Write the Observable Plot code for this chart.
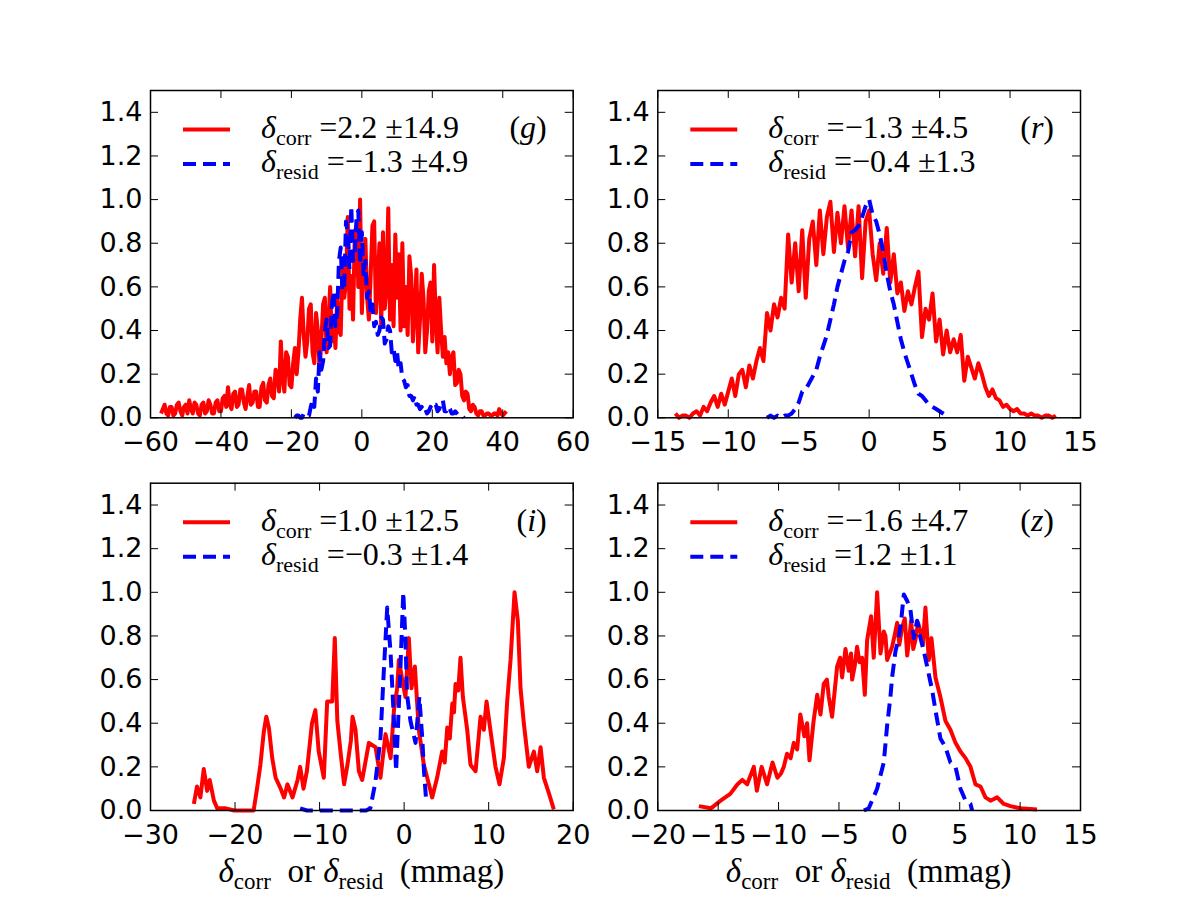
<!DOCTYPE html>
<html><head><meta charset="utf-8">
<script src="https://cdn.jsdelivr.net/npm/d3@7"></script>
<script src="https://cdn.jsdelivr.net/npm/@observablehq/plot@0.6"></script>
<style>
body{margin:0;background:#fff;}
#fig{position:relative;width:1200px;height:900px;background:#fff;overflow:hidden;}
#fig svg{position:absolute;overflow:visible;}
</style></head><body><div id="fig"></div>
<script>
// ---------------- DATA ----------------
const bands = ["g", "r", "i", "z"];
const corrMean = [2.2, -1.3, 1.0, -1.6];
const corrStd = [14.9, 4.5, 12.5, 4.7];
const residMean = [-1.3, -0.4, -0.3, 1.2];
const residStd = [4.9, 1.3, 1.4, 1.1];

const yTicks = [0, 0.2, 0.4, 0.6, 0.8, 1.0, 1.2, 1.4];
const gTicks = [-60, -40, -20, 0, 20, 40, 60];
const rTicks = [-15, -10, -5, 0, 5, 10, 15];
const iTicks = [-30, -20, -10, 0, 10, 20];
const zTicks = [-20, -15, -10, -5, 0, 5, 10, 15];

// g band: histogram bins (start, width) and normalised counts
const gCorrStart = -57, gCorrStep = 0.5;
const gCorr = [
 0.02,0.04, 0.06,0.02, 0.01,0.05, 0.05,0.01, 0.02,0.06, 0.07,0.03, 0.01,0.05, 0.06,0.02, 0.08,0.04, 0.02,0.07,
 0.06,0.02, 0.01,0.06, 0.07,0.02, 0.03,0.08, 0.06,0.02, 0.02,0.07, 0.08,0.03, 0.03,0.09, 0.10,0.05, 0.14,0.06,
 0.04,0.11, 0.12,0.05, 0.06,0.13, 0.13,0.07, 0.04,0.10, 0.15,0.06, 0.07,0.12, 0.12,0.05, 0.05,0.14, 0.16,0.08,
 0.07,0.15, 0.18,0.10, 0.09,0.22, 0.20,0.12, 0.35,0.18, 0.12,0.30, 0.28,0.15, 0.14,0.25, 0.32,0.20, 0.30,0.45,
 0.55,0.38, 0.28,0.35, 0.50,0.52, 0.30,0.25, 0.48,0.40, 0.22,0.35, 0.52,0.55, 0.30,0.42, 0.60,0.35, 0.45,0.32,
 0.55,0.40, 0.38,0.70, 0.55,0.62, 0.92,0.50, 0.65,0.45, 0.85,0.88, 0.60,1.00, 0.48,0.70, 0.82,0.55, 0.45,0.65,
 0.88,0.90, 0.48,0.62, 0.80,0.42, 0.85,0.50, 0.60,0.96, 0.45,0.70, 0.42,0.84, 0.55,0.75, 0.40,0.80, 0.42,0.60,
 0.38,0.74, 0.65,0.35, 0.50,0.68, 0.30,0.45, 0.66,0.55, 0.30,0.40, 0.58,0.62, 0.35,0.70, 0.45,0.30, 0.55,0.40,
 0.28,0.37, 0.25,0.30, 0.20,0.28, 0.30,0.15, 0.16,0.22, 0.20,0.10, 0.08,0.12, 0.11,0.04, 0.03,0.06, 0.05,0.02,
 0.01,0.03, 0.03,0.01, 0.01,0.02, 0.02,0.01, 0.01,0.02, 0.02,0.01, 0.04,0.02, 0.01,0.02, 0.03];
const gResidStart = -19, gResidStep = 0.5;
const gResid = [
 0.00,0.01, 0.01,0.00, 0.00,0.02, 0.02,0.01, 0.01,0.05, 0.08,0.05, 0.18,0.12, 0.30,0.22, 0.26,0.40, 0.45,0.32,
 0.33,0.52, 0.58,0.42, 0.48,0.72, 0.78,0.58, 0.60,0.90, 0.85,0.68, 0.97,0.72, 0.75,0.92, 0.95,0.70, 0.85,0.65,
 0.72,0.55, 0.58,0.48, 0.52,0.42, 0.44,0.38, 0.40,0.46, 0.45,0.34, 0.36,0.42, 0.40,0.30, 0.32,0.26, 0.30,0.22,
 0.25,0.18, 0.17,0.14, 0.15,0.10, 0.10,0.08, 0.10,0.06, 0.06,0.04, 0.05,0.03, 0.04,0.02, 0.03,0.05, 0.04,0.06,
 0.06,0.03, 0.04,0.07, 0.08,0.03, 0.03,0.05, 0.04,0.02, 0.02,0.03, 0.02,0.01, 0.01,0.01, 0.00];

// r band
const rCorrStart = -13.75, rCorrStep = 0.25;
const rCorr = [0.02,0.00,0.01,0.01, 0.00,0.02,0.03,0.01, 0.05,0.03,0.07,0.10,
 0.05,0.11,0.06,0.12, 0.18,0.10,0.20,0.22, 0.14,0.24,0.18,0.26,
 0.32,0.26,0.48,0.40, 0.52,0.46,0.55,0.50, 0.84,0.62,0.80,0.58,
 0.86,0.55,0.82,0.90, 0.70,0.95,0.75,0.92, 0.99,0.76,0.94,0.80,
 0.97,0.78,0.95,0.74, 0.97,0.64,0.90,0.95, 0.75,0.63,0.80,0.66,
 0.87,0.62,0.75,0.57, 0.62,0.49,0.58,0.52, 0.60,0.67,0.37,0.50,
 0.45,0.57,0.35,0.45, 0.29,0.40,0.30,0.36, 0.30,0.38,0.17,0.28,
 0.23,0.18,0.25,0.20, 0.14,0.10,0.13,0.09, 0.08,0.05,0.06,0.04,
 0.03,0.04,0.02,0.02, 0.01,0.02,0.01,0.01, 0.00,0.01,0.01,0.00, 0.01];
const rResidStart = -7.25, rResidStep = 0.25;
const rResid = [0.00,0.01,0.00,0.01,0.00,0.01,0.01,0.02,0.04,0.07,
 0.12,0.13,0.16,0.19,0.22,0.28,0.33,0.38,0.45,0.52,
 0.60,0.66,0.72,0.76,0.85,0.86,0.88,0.92,0.97,1.00,
 0.93,0.90,0.84,0.76,0.66,0.58,0.52,0.44,0.36,0.30,
 0.25,0.20,0.15,0.11,0.10,0.08,0.06,0.05,0.04,0.03,0.02,0.01];

// i band
const iCorrX = [-24.87,-24.5,-24.1,-23.7,-23.3,-23.0,-22.5,-22.1,-21.1,-20.1,-19,-17.8,-17.4,-17.0,-16.6,-16.3,-16.0,-15.6,-15.2,-14.6,-14.2,-13.8,-13.2,-12.6,-12.3,-11.9,-11.5,-10.9,-10.5,-10.1,-9.5,-9.1,-8.5,-8.2,-7.9,-7.5,-7.1,-6.7,-6.3,-6.1,-5.75,-5.35,-4.96,-4.17,-3.38,-2.8,-2.2,-1.6,-1.2,-0.82,-0.62,-0.23,0.16,0.56,0.87,1.27,1.74,2.33,2.93,3.32,3.9,4.5,4.8,5.1,5.4,5.7,5.9,6.08,6.4,6.67,6.95,7.46,7.85,8.45,9.04,9.43,9.75,10.2,10.81,11.28,11.8,12.19,12.59,13.06,13.45,13.77,14.16,14.75,15.35,15.74,16.14,16.53,17.12,17.71];
const iCorrY = [0.03,0.11,0.06,0.19,0.09,0.14,0.045,0.01,0.01,0.0,0.0,0.0,0.10,0.21,0.36,0.43,0.38,0.24,0.15,0.10,0.06,0.12,0.06,0.14,0.20,0.10,0.18,0.40,0.46,0.27,0.15,0.50,0.50,0.79,0.41,0.26,0.12,0.21,0.32,0.43,0.37,0.18,0.14,0.31,0.29,0.15,0.35,0.24,0.46,0.56,0.69,0.60,0.52,0.79,0.56,0.66,0.37,0.21,0.12,0.06,0.15,0.27,0.22,0.38,0.33,0.49,0.45,0.58,0.55,0.70,0.52,0.37,0.21,0.18,0.43,0.37,0.50,0.37,0.20,0.12,0.24,0.50,0.69,1.00,0.87,0.56,0.40,0.20,0.27,0.18,0.29,0.15,0.08,0.005];
const iResidX = [-12.3,-11.5,-10.5,-9.5,-8.5,-7.5,-6.5,-5.5,-4.5,-4.0,-3.4,-2.8,-2.4,-2.0,-1.6,-1.2,-0.95,-0.45,-0.1,0.15,0.35,0.75,1.35,1.8,2.15,2.35,2.6];
const iResidY = [0.01,0.0,0.0,0.0,0.0,0.0,0.0,0.0,0.0,0.01,0.13,0.33,0.64,0.93,0.72,0.41,0.18,0.64,1.0,0.79,0.53,0.41,0.31,0.52,0.33,0.18,0.05];

// z band
const zCorrX = [-16.6,-15.6,-14.8,-14.0,-13.4,-13.0,-12.6,-12.05,-11.8,-11.4,-10.95,-10.5,-10.1,-9.8,-9.57,-9.3,-9.0,-8.74,-8.46,-8.2,-7.86,-7.64,-7.44,-7.1,-6.8,-6.53,-6.26,-6.0,-5.84,-5.57,-5.35,-5.15,-4.9,-4.74,-4.46,-4.19,-4.0,-3.91,-3.7,-3.5,-3.3,-3.08,-2.86,-2.67,-2.34,-2.12,-1.84,-1.56,-1.29,-1.15,-1.01,-0.8,-0.6,-0.4,-0.18,0.0,0.23,0.45,0.65,0.8,0.98,1.15,1.33,1.55,1.75,1.95,2.16,2.44,2.66,2.99,3.4,3.82,4.23,4.65,5.06,5.48,5.89,6.3,6.72,7.13,7.55,8.1,8.65,9.2,10.0,11.4];
const zCorrY = [0.02,0.01,0.045,0.076,0.12,0.14,0.12,0.20,0.09,0.20,0.12,0.22,0.15,0.17,0.20,0.26,0.24,0.31,0.28,0.44,0.34,0.40,0.23,0.41,0.53,0.44,0.58,0.60,0.52,0.43,0.55,0.66,0.70,0.61,0.74,0.64,0.72,0.60,0.66,0.75,0.68,0.70,0.53,0.78,0.89,0.70,1.0,0.72,0.82,0.80,0.69,0.72,0.75,0.80,0.86,0.76,0.84,0.88,0.71,0.78,0.87,0.74,0.78,0.86,0.82,0.76,0.93,0.69,0.79,0.61,0.52,0.41,0.37,0.31,0.27,0.24,0.20,0.12,0.11,0.06,0.045,0.06,0.03,0.02,0.01,0.005];
const zResidX = [-2.94,-2.53,-1.84,-1.29,-1.01,-0.74,-0.6,-0.32,-0.05,0.15,0.37,0.65,0.92,1.2,1.47,1.75,2.03,2.3,2.72,2.99,3.4,3.82,4.23,4.65,5.06,5.48,5.89,6.03];
const zResidY = [0.0,0.01,0.1,0.22,0.39,0.52,0.61,0.73,0.79,0.87,0.99,0.96,0.92,0.79,0.87,0.79,0.73,0.66,0.55,0.46,0.33,0.29,0.22,0.20,0.10,0.045,0.03,0.0];

// ---------------- BUILD ----------------
const binned = (start, step, vals) => vals.map((v, k) => ({x: start + k * step, y: v}));
const paired = (xs, ys) => xs.map((x, k) => ({x, y: ys[k]}));

const panels = [
  {ticks: gTicks, corr: binned(gCorrStart, gCorrStep, gCorr), resid: binned(gResidStart, gResidStep, gResid)},
  {ticks: rTicks, corr: binned(rCorrStart, rCorrStep, rCorr), resid: binned(rResidStart, rResidStep, rResid)},
  {ticks: iTicks, corr: paired(iCorrX, iCorrY), resid: paired(iResidX, iResidY)},
  {ticks: zTicks, corr: paired(zCorrX, zCorrY), resid: paired(zResidX, zResidY)}
];

const SVGW = 600, SVGH = 450, FW = 422.7, FH = 327.3;
const frameLeft = [150, 657.3], frameTop = [90, 482.7];
const RED = "#ff0000", BLUE = "#0000ff";
const LW = 4;
const DASH = "13,7";
const fmt = v => (v < 0 ? "\u2212" : "") + Math.abs(v).toFixed(1);
const serif = "'Liberation Serif', 'Times New Roman', serif";
const fig = document.getElementById("fig");

panels.forEach((p, k) => {
  const col = k % 2, row = Math.floor(k / 2);
  const left = col * SVGW, top = row * SVGH;
  const mL = frameLeft[col] - left, mT = frameTop[row] - top;
  const mR = SVGW - mL - FW, mB = SVGH - mT - FH;
  const xd = [p.ticks[0], p.ticks[p.ticks.length - 1]];
  const plot = Plot.plot({
    width: SVGW, height: SVGH,
    marginLeft: mL, marginRight: mR, marginTop: mT, marginBottom: mB,
    x: {domain: xd},
    y: {domain: [0, 1.5]},
    style: {fontFamily: "'DejaVu Sans', sans-serif", fontSize: "27px", color: "black", background: "transparent", overflow: "visible"},
    marks: [
      Plot.line(p.corr, {x: "x", y: "y", stroke: RED, strokeWidth: LW, strokeLinejoin: "round", strokeLinecap: "butt"}),
      Plot.line(p.resid, {x: "x", y: "y", stroke: BLUE, strokeWidth: LW, strokeDasharray: DASH, strokeLinejoin: "round", strokeLinecap: "butt"}),
      Plot.ruleX(p.ticks, {x: d => d, insetTop: FH - 8, stroke: "black", strokeWidth: 1}),
      Plot.ruleX(p.ticks, {x: d => d, insetBottom: FH - 8, stroke: "black", strokeWidth: 1}),
      Plot.ruleY(yTicks, {y: d => d, insetRight: FW - 8, stroke: "black", strokeWidth: 1}),
      Plot.ruleY(yTicks, {y: d => d, insetLeft: FW - 8, stroke: "black", strokeWidth: 1}),
      Plot.frame({stroke: "black", strokeWidth: 1.5}),
      Plot.axisX(p.ticks, {tickSize: 0, tickPadding: 14, label: null, fill: "black"}),
      Plot.axisY(yTicks, {tickSize: 0, tickPadding: 8, label: null, tickFormat: d3.format(".1f"), fill: "black"})
    ]
  });
  plot.style.left = left + "px";
  plot.style.top = top + "px";
  fig.appendChild(plot);

  const svg = d3.select(plot);
  const g = svg.append("g").attr("font-family", serif).attr("fill", "black").attr("text-anchor", "start");
  // legend samples
  g.append("line").attr("x1", mL + 33).attr("x2", mL + 80).attr("y1", mT + 39.5).attr("y2", mT + 39.5)
    .attr("stroke", RED).attr("stroke-width", LW);
  g.append("line").attr("x1", mL + 33).attr("x2", mL + 80).attr("y1", mT + 74).attr("y2", mT + 74)
    .attr("stroke", BLUE).attr("stroke-width", LW).attr("stroke-dasharray", DASH);
  const entry = (y, sub, mean, sd) => {
    const t = g.append("text").attr("x", mL + 111).attr("y", y).attr("font-size", 32)
      .attr("text-anchor", "start").style("white-space", "pre");
    t.append("tspan").attr("font-style", "italic").text("\u03b4");
    t.append("tspan").attr("font-size", 22).attr("dy", 7).text(sub);
    t.append("tspan").attr("dy", -7).text(" =" + fmt(mean) + " \u00b1" + sd.toFixed(1));
  };
  entry(mT + 48, "corr", corrMean[k], corrStd[k]);
  entry(mT + 82, "resid", residMean[k], residStd[k]);
  const lab = g.append("text").attr("x", mL + FW - 26).attr("y", mT + 48).attr("font-size", 32).attr("text-anchor", "end");
  lab.append("tspan").text("(");
  lab.append("tspan").attr("font-style", "italic").text(bands[k]);
  lab.append("tspan").text(")");

  if (row === 1) {
    const xl = g.append("text").attr("x", mL + FW / 2).attr("y", 432).attr("font-size", 33)
      .attr("text-anchor", "middle").style("white-space", "pre");
    xl.append("tspan").attr("font-style", "italic").text("\u03b4");
    xl.append("tspan").attr("font-size", 23).attr("dy", 7).text("corr");
    xl.append("tspan").attr("dy", -7).text("  or ");
    xl.append("tspan").attr("font-style", "italic").text("\u03b4");
    xl.append("tspan").attr("font-size", 23).attr("dy", 7).text("resid");
    xl.append("tspan").attr("dy", -7).text("  (mmag)");
  }
});
</script></body></html>
